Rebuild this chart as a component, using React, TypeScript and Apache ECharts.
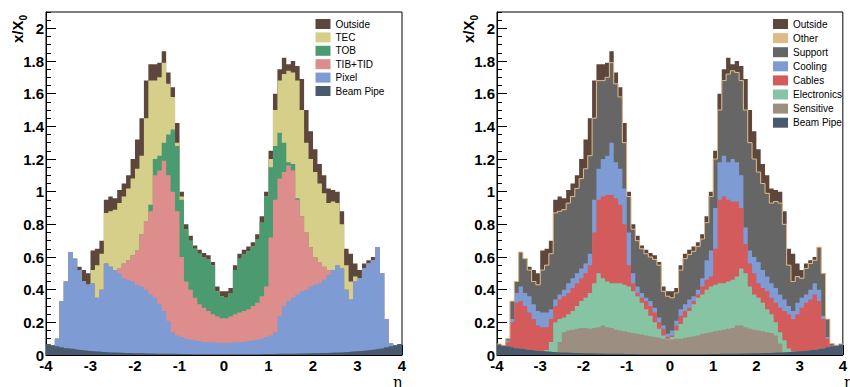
import React, { useEffect, useRef } from "react";
import * as echarts from "echarts";

// Histogram binning: 80 bins of width 0.1 in eta, from -4 to 4
const ETA_MIN = -4;
const ETA_MAX = 4;
const BIN_WIDTH = 0.1;

// Upper edge (cumulative x/X0) of each stacked layer, one value per bin
const beamPipeTop = [
  0.068, 0.060, 0.053, 0.047, 0.042, 0.038, 0.034, 0.030, 0.027, 0.025,
  0.023, 0.021, 0.019, 0.017, 0.016, 0.015, 0.014, 0.013, 0.012, 0.011,
  0.010, 0.010, 0.009, 0.009, 0.008, 0.008, 0.007, 0.007, 0.007, 0.006,
  0.006, 0.006, 0.005, 0.005, 0.005, 0.005, 0.005, 0.005, 0.005, 0.005,
  0.005, 0.005, 0.005, 0.005, 0.005, 0.005, 0.005, 0.005, 0.006, 0.006,
  0.006, 0.007, 0.007, 0.007, 0.008, 0.008, 0.009, 0.009, 0.010, 0.010,
  0.011, 0.012, 0.013, 0.014, 0.015, 0.016, 0.017, 0.019, 0.021, 0.023,
  0.025, 0.027, 0.030, 0.034, 0.038, 0.042, 0.047, 0.053, 0.060, 0.068,
];

const pixelTop = [
  0.068, 0.060, 0.10, 0.33, 0.45, 0.63, 0.59, 0.52, 0.45, 0.43,
  0.44, 0.35, 0.40, 0.56, 0.54, 0.52, 0.50, 0.47, 0.46, 0.45,
  0.43, 0.42, 0.40, 0.37, 0.35, 0.31, 0.27, 0.21, 0.14, 0.12,
  0.11, 0.10, 0.095, 0.09, 0.085, 0.08, 0.078, 0.076, 0.075, 0.074,
  0.075, 0.076, 0.078, 0.08, 0.082, 0.085, 0.09, 0.095, 0.10, 0.11,
  0.12, 0.14, 0.24, 0.30, 0.33, 0.35, 0.37, 0.39, 0.40, 0.42,
  0.43, 0.44, 0.46, 0.49, 0.52, 0.55, 0.53, 0.40, 0.34, 0.45,
  0.47, 0.53, 0.56, 0.58, 0.66, 0.50, 0.22, 0.07, 0.060, 0.068,
];

const tibTidTop = [
  0.068, 0.060, 0.10, 0.33, 0.45, 0.63, 0.59, 0.52, 0.45, 0.43,
  0.44, 0.35, 0.40, 0.56, 0.54, 0.52, 0.53, 0.56, 0.58, 0.61,
  0.64, 0.74, 0.82, 0.88, 1.10, 1.13, 1.19, 1.10, 1.00, 0.88,
  0.60, 0.45, 0.40, 0.35, 0.31, 0.29, 0.27, 0.25, 0.235, 0.225,
  0.225, 0.235, 0.25, 0.26, 0.27, 0.28, 0.30, 0.32, 0.36, 0.42,
  0.72, 0.95, 1.08, 1.12, 1.16, 1.13, 0.95, 0.85, 0.75, 0.66,
  0.60, 0.57, 0.54, 0.52, 0.52, 0.55, 0.53, 0.40, 0.34, 0.45,
  0.47, 0.53, 0.56, 0.58, 0.66, 0.50, 0.22, 0.07, 0.060, 0.068,
];

const tobTop = [
  0.068, 0.060, 0.10, 0.33, 0.45, 0.63, 0.59, 0.52, 0.45, 0.43,
  0.44, 0.35, 0.40, 0.56, 0.54, 0.52, 0.53, 0.56, 0.58, 0.61,
  0.64, 0.74, 0.82, 0.92, 1.20, 1.22, 1.30, 1.35, 1.38, 1.28,
  0.95, 0.77, 0.70, 0.65, 0.62, 0.60, 0.585, 0.55, 0.39, 0.36,
  0.35, 0.38, 0.52, 0.59, 0.615, 0.635, 0.665, 0.71, 0.81, 0.97,
  1.15, 1.28, 1.36, 1.30, 1.18, 1.17, 0.96, 0.85, 0.75, 0.66,
  0.60, 0.57, 0.54, 0.52, 0.52, 0.55, 0.53, 0.40, 0.34, 0.45,
  0.47, 0.53, 0.56, 0.58, 0.66, 0.50, 0.22, 0.07, 0.060, 0.068,
];

// top of all tracker material (TEC on the left, Other/Support on the right)
const trackerTop = [
  0.068, 0.060, 0.10, 0.33, 0.45, 0.63, 0.59, 0.52, 0.45, 0.43,
  0.52, 0.55, 0.62, 0.87, 0.88, 0.89, 0.93, 0.97, 1.02, 1.08,
  1.14, 1.22, 1.45, 1.68, 1.68, 1.70, 1.79, 1.66, 1.58, 1.30,
  0.97, 0.77, 0.70, 0.65, 0.62, 0.60, 0.585, 0.55, 0.39, 0.36,
  0.35, 0.38, 0.52, 0.59, 0.615, 0.635, 0.665, 0.71, 0.81, 0.97,
  1.20, 1.50, 1.68, 1.72, 1.74, 1.73, 1.68, 1.50, 1.30, 1.20,
  1.12, 1.05, 0.99, 0.93, 0.94, 0.93, 0.80, 0.55, 0.45, 0.48,
  0.47, 0.53, 0.56, 0.58, 0.66, 0.50, 0.22, 0.07, 0.060, 0.068,
];

const outsideTop = [
  0.068, 0.060, 0.10, 0.33, 0.45, 0.63, 0.59, 0.54, 0.52, 0.50,
  0.64, 0.65, 0.70, 0.95, 0.97, 0.96, 1.01, 1.05, 1.10, 1.20,
  1.32, 1.45, 1.68, 1.78, 1.78, 1.79, 1.86, 1.73, 1.64, 1.42,
  1.00, 0.80, 0.73, 0.67, 0.645, 0.625, 0.61, 0.57, 0.42, 0.39,
  0.39, 0.41, 0.55, 0.62, 0.645, 0.665, 0.69, 0.74, 0.85, 1.00,
  1.25, 1.60, 1.75, 1.82, 1.78, 1.80, 1.77, 1.69, 1.50, 1.37,
  1.26, 1.17, 1.10, 1.02, 1.01, 1.00, 0.88, 0.65, 0.62, 0.56,
  0.52, 0.56, 0.58, 0.60, 0.66, 0.50, 0.22, 0.07, 0.060, 0.068,
];

const sensitiveTop = [
  0.068, 0.060, 0.053, 0.047, 0.042, 0.038, 0.034, 0.030, 0.027, 0.025,
  0.023, 0.021, 0.019, 0.017, 0.08, 0.14, 0.15, 0.155, 0.16, 0.165,
  0.165, 0.16, 0.165, 0.17, 0.18, 0.17, 0.165, 0.155, 0.15, 0.145,
  0.14, 0.135, 0.13, 0.125, 0.12, 0.115, 0.11, 0.105, 0.10, 0.095,
  0.095, 0.10, 0.10, 0.105, 0.11, 0.115, 0.12, 0.13, 0.135, 0.14,
  0.145, 0.15, 0.155, 0.16, 0.165, 0.18, 0.18, 0.17, 0.16, 0.155,
  0.15, 0.145, 0.14, 0.135, 0.12, 0.07, 0.017, 0.019, 0.021, 0.023,
  0.025, 0.027, 0.030, 0.034, 0.038, 0.042, 0.047, 0.053, 0.060, 0.068,
];

const electronicsTop = [
  0.068, 0.060, 0.053, 0.047, 0.042, 0.038, 0.034, 0.030, 0.027, 0.025,
  0.023, 0.03, 0.08, 0.20, 0.22, 0.23, 0.25, 0.27, 0.30, 0.33,
  0.35, 0.38, 0.44, 0.50, 0.47, 0.45, 0.44, 0.44, 0.44, 0.43,
  0.42, 0.39, 0.36, 0.32, 0.28, 0.24, 0.20, 0.16, 0.12, 0.10,
  0.11, 0.15, 0.19, 0.23, 0.27, 0.31, 0.35, 0.37, 0.40, 0.42,
  0.43, 0.44, 0.44, 0.45, 0.46, 0.48, 0.53, 0.50, 0.42, 0.37,
  0.35, 0.32, 0.28, 0.25, 0.20, 0.14, 0.09, 0.04, 0.021, 0.023,
  0.025, 0.027, 0.030, 0.034, 0.038, 0.042, 0.047, 0.053, 0.060, 0.068,
];

const cablesTop = [
  0.068, 0.060, 0.08, 0.20, 0.32, 0.33, 0.30, 0.26, 0.22, 0.18,
  0.17, 0.17, 0.22, 0.30, 0.34, 0.36, 0.38, 0.41, 0.44, 0.47,
  0.50, 0.55, 0.75, 0.95, 0.97, 0.98, 0.98, 0.96, 0.92, 0.80,
  0.55, 0.44, 0.38, 0.35, 0.33, 0.30, 0.26, 0.20, 0.16, 0.11,
  0.12, 0.18, 0.24, 0.27, 0.29, 0.33, 0.37, 0.42, 0.46, 0.48,
  0.65, 0.95, 0.97, 0.95, 0.94, 0.94, 0.90, 0.68, 0.56, 0.50,
  0.44, 0.41, 0.39, 0.35, 0.32, 0.29, 0.27, 0.25, 0.22, 0.25,
  0.29, 0.32, 0.34, 0.37, 0.33, 0.22, 0.10, 0.06, 0.060, 0.068,
];

const coolingTop = [
  0.068, 0.060, 0.09, 0.22, 0.38, 0.42, 0.38, 0.36, 0.31, 0.27,
  0.26, 0.26, 0.28, 0.34, 0.37, 0.40, 0.44, 0.47, 0.50, 0.53,
  0.56, 0.62, 0.95, 1.14, 1.20, 1.22, 1.30, 1.18, 1.14, 1.02,
  0.75, 0.50, 0.42, 0.38, 0.35, 0.33, 0.29, 0.23, 0.18, 0.13,
  0.15, 0.21, 0.28, 0.31, 0.34, 0.36, 0.40, 0.47, 0.58, 0.64,
  0.90, 1.18, 1.22, 1.18, 1.20, 1.18, 1.10, 0.78, 0.64, 0.60,
  0.57, 0.52, 0.48, 0.44, 0.41, 0.37, 0.34, 0.30, 0.27, 0.32,
  0.35, 0.37, 0.40, 0.44, 0.40, 0.24, 0.11, 0.06, 0.060, 0.068,
];

const leftLegend = ["Outside", "TEC", "TOB", "TIB+TID", "Pixel", "Beam Pipe"];
const rightLegend = ["Outside", "Other", "Support", "Cooling", "Cables", "Electronics", "Sensitive", "Beam Pipe"];

const COLORS: Record<string, string> = {
  Outside: "#5d463c",
  TEC: "#d5cf89",
  TOB: "#4b9a70",
  "TIB+TID": "#de8d8d",
  Pixel: "#7e9bd4",
  "Beam Pipe": "#485a6b",
  Other: "#e0ba86",
  Support: "#666666",
  Cooling: "#7e9bd4",
  Cables: "#d35b5b",
  Electronics: "#86c4a3",
  Sensitive: "#9c8e80",
};

const FONT = "'Liberation Sans', Arial, Helvetica, sans-serif";

function stepPoints(tops: number[]): number[][] {
  const pts = tops.map((v, i) => [Math.round((ETA_MIN + i * BIN_WIDTH) * 100) / 100, v]);
  pts.push([ETA_MAX, tops[tops.length - 1]]);
  return pts;
}

function layer(name: string, tops: number[], panel: number, outline?: { color: string; width: number }) {
  const color = COLORS[name];
  return {
    name,
    type: "line",
    xAxisIndex: panel,
    yAxisIndex: panel * 2,
    step: "end",
    data: stepPoints(tops),
    symbol: "none",
    showSymbol: false,
    color,
    itemStyle: { color },
    lineStyle: outline ? { color: outline.color, width: outline.width } : { width: 0, color },
    areaStyle: { color, opacity: 1 },
    silent: true,
  };
}

export default function App() {
  const ref = useRef<HTMLDivElement>(null);

  useEffect(() => {
    if (!ref.current) return;
    const chart = echarts.init(ref.current, undefined, { renderer: "svg" });

    const grids = [46, 497].map((left) => ({
      left,
      top: 12,
      width: 356,
      height: 343,
      show: true,
      borderColor: "#000",
      borderWidth: 1,
      backgroundColor: "transparent",
    }));

    const xAxes = [0, 1].map((g) => ({
      type: "value",
      gridIndex: g,
      min: ETA_MIN,
      max: ETA_MAX,
      interval: 1,
      axisLine: { show: true, onZero: false, lineStyle: { color: "#000", width: 1 } },
      axisTick: { show: true, inside: true, length: 10, lineStyle: { color: "#000", width: 1 } },
      minorTick: { show: true, splitNumber: 5, length: 5, lineStyle: { color: "#000", width: 1 } },
      axisLabel: {
        color: "#000",
        fontFamily: FONT,
        fontWeight: "bold",
        fontSize: 15,
        margin: 3,
        showMinLabel: true,
        showMaxLabel: true,
      },
      splitLine: { show: false },
      minorSplitLine: { show: false },
    }));

    const yAxes: any[] = [];
    [0, 1].forEach((g) => {
      yAxes.push({
        type: "value",
        gridIndex: g,
        position: "left",
        min: 0,
        max: 2.1,
        interval: 0.2,
        axisLine: { show: true, onZero: false, lineStyle: { color: "#000", width: 1 } },
        axisTick: { show: true, inside: true, length: 10, lineStyle: { color: "#000", width: 1 } },
        axisLabel: {
          color: "#000",
          fontFamily: FONT,
          fontWeight: "bold",
          fontSize: 15,
          margin: 2,
          showMaxLabel: false,
        },
        splitLine: { show: false },
      });
      yAxes.push({
        type: "value",
        gridIndex: g,
        position: "left",
        offset: 0,
        min: 0,
        max: 2.1,
        interval: 0.05,
        axisLine: { show: false, onZero: false },
        axisTick: { show: true, inside: true, length: 5, lineStyle: { color: "#000", width: 1 } },
        axisLabel: { show: false },
        splitLine: { show: false },
      });
    });

    const series = [
      layer("Outside", outsideTop, 0),
      layer("TEC", trackerTop, 0),
      layer("TOB", tobTop, 0),
      layer("TIB+TID", tibTidTop, 0),
      layer("Pixel", pixelTop, 0),
      layer("Beam Pipe", beamPipeTop, 0),
      layer("Outside", outsideTop, 1),
      layer("Other", trackerTop, 1, { color: COLORS.Other, width: 1 }),
      layer("Support", trackerTop, 1),
      layer("Cooling", coolingTop, 1),
      layer("Cables", cablesTop, 1),
      layer("Electronics", electronicsTop, 1),
      layer("Sensitive", sensitiveTop, 1),
      layer("Beam Pipe", beamPipeTop, 1),
    ];

    const legendCommon = {
      orient: "vertical",
      itemWidth: 15,
      itemHeight: 10,
      icon: "rect",
      padding: 0,
      selectedMode: false,
      textStyle: { fontSize: 10, fontFamily: FONT, color: "#000" },
      itemStyle: { borderWidth: 0 },
    };

    const titleText = (x: number) => ({
      type: "group",
      x,
      y: 43,
      rotation: Math.PI / 2,
      children: [
        {
          type: "text",
          x: 0,
          y: 0,
          style: { text: "x/X", fontSize: 15, fontWeight: "bold", fontFamily: FONT, fill: "#000", align: "left", verticalAlign: "top" },
        },
        {
          type: "text",
          x: 22.5,
          y: 8,
          style: { text: "0", fontSize: 10, fontWeight: "bold", fontFamily: FONT, fill: "#000", align: "left", verticalAlign: "top" },
        },
      ],
    });

    const etaText = (x: number) => ({
      type: "text",
      x,
      y: 382,
      style: { text: "η", fontSize: 15, fontFamily: "'DejaVu Serif', serif", fill: "#000", align: "right", verticalAlign: "middle" },
    });

    chart.setOption({
      animation: false,
      backgroundColor: "#fff",
      grid: grids,
      xAxis: xAxes,
      yAxis: yAxes,
      legend: [
        { ...legendCommon, data: leftLegend, left: 315.5, top: 19, itemGap: 3.4 },
        { ...legendCommon, data: rightLegend, left: 773, top: 19, itemGap: 4.1 },
      ],
      series,
      graphic: [titleText(10), titleText(461), etaText(402), etaText(853)],
    });

    return () => chart.dispose();
  }, []);

  return (
    <div
      ref={ref}
      style={{ position: "fixed", left: 0, top: 0, width: 850, height: 387, background: "#fff" }}
    />
  );
}
